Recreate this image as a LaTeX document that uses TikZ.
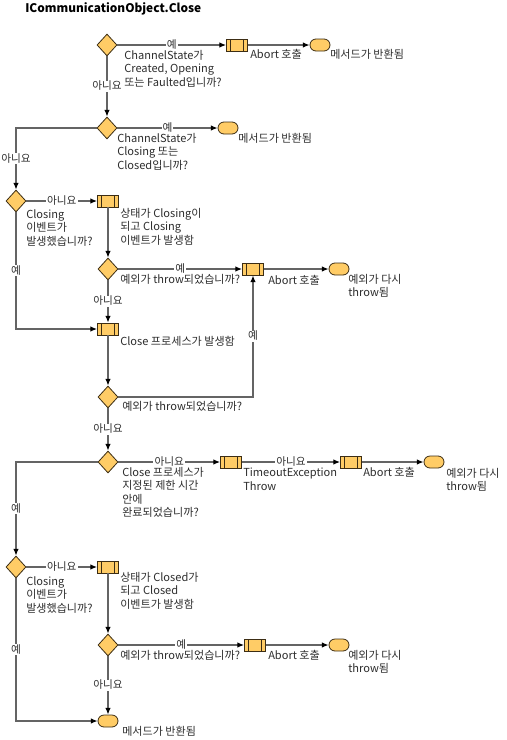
\documentclass[tikz,border=0pt]{standalone}
\usepackage{fontspec}
\setmainfont{Noto Sans CJK KR}
\usetikzlibrary{shapes.geometric,shapes.misc,arrows.meta}

\definecolor{boxfill}{RGB}{255,204,102}
\definecolor{boxline}{RGB}{60,45,20}
\definecolor{flowline}{RGB}{100,100,100}
\definecolor{txt}{RGB}{45,45,45}

\tikzset{
  decision/.style={diamond,draw=boxline,fill=boxfill,line width=0.6pt,inner sep=0pt,minimum width=15pt,minimum height=16.5pt},
  activity/.style={rectangle,draw=boxline,fill=boxfill,line width=0.6pt,inner sep=0pt,minimum width=15.75pt,minimum height=9pt,
    path picture={\draw[boxline,line width=0.6pt] ([xshift=3pt]path picture bounding box.north west) -- ([xshift=3pt]path picture bounding box.south west);
                  \draw[boxline,line width=0.6pt] ([xshift=-3pt]path picture bounding box.north east) -- ([xshift=-3pt]path picture bounding box.south east);}},
  endstate/.style={rounded rectangle,draw=boxline,fill=boxfill,line width=0.6pt,inner sep=0pt,minimum width=15pt,minimum height=9pt},
  flow/.style={draw=flowline,line width=0.8pt,-{Latex[length=5pt,width=4pt,color=black]}},
  guard/.style={fill=white,inner sep=0.8pt,text height=6pt,text depth=0.8pt,text=txt,font=\fontsize{8}{9}\selectfont},
  caption/.style={anchor=north west,align=left,inner sep=0pt,text=txt,font=\fontsize{8.3}{10.1}\selectfont}
}

\begin{document}
\begin{tikzpicture}[x=0.75pt,y=0.75pt,yscale=-1,xscale=1]
\useasboundingbox (0,0) rectangle (507,740);

% Title
\node[anchor=west,inner sep=0pt,font=\fontsize{8.9}{10}\selectfont\bfseries] (title) at (25,9) {ICommunicationObject.Close};

% Shapes
\node[decision] (d1) at (107,45) {};
\node[activity] (p1) at (237,45) {};
\node[endstate] (t1) at (320,45) {};
\node[decision] (d2) at (107,128) {};
\node[endstate] (t2) at (228,128) {};
\node[decision] (d3) at (16,201) {};
\node[activity] (p2) at (108,201) {};
\node[decision] (d4) at (108,269) {};
\node[activity] (p3) at (253,269) {};
\node[endstate] (t3) at (339,269) {};
\node[activity] (p4) at (108,329) {};
\node[decision] (d5) at (108,397) {};
\node[decision] (d6) at (108,462) {};
\node[activity] (p5) at (231,462) {};
\node[activity] (p6) at (351,462) {};
\node[endstate] (t4) at (434,462) {};
\node[decision] (d7) at (16,567) {};
\node[activity] (p7) at (108,567) {};
\node[decision] (d8) at (108,645) {};
\node[activity] (p8) at (255,645) {};
\node[endstate] (t5) at (339,645) {};
\node[endstate] (t6) at (108,721) {};

%Straight Lines
\draw[flow] (d1) -- node[guard] {예} (p1);
\draw[flow] (p1) -- (t1);
\draw[flow] (d1) -- node[guard] {아니요} (d2);
\draw[flow] (d2) -- node[guard] {예} (t2);
\draw[flow] (d2.west) -| node[guard,pos=0.75] {아니요} (d3.north);
\draw[flow] (d3) -- node[guard] {아니요} (p2);
\draw[flow] (p2) -- (d4);
\draw[flow] (d4) -- node[guard] {예} (p3);
\draw[flow] (p3) -- (t3);
\draw[flow] (d4) -- node[guard] {아니요} (p4);
\draw[flow] (d3.south) |- node[guard,pos=0.25] {예} (p4.west);
\draw[flow] (p4) -- (d5);
\draw[flow] (d5.east) -| node[guard,pos=0.75] {예} (p3.south);
\draw[flow] (d5) -- node[guard] {아니요} (d6);
\draw[flow] (d6) -- node[guard] {아니요} (p5);
\draw[flow] (p5) -- node[guard] {아니요} (p6);
\draw[flow] (p6) -- (t4);
\draw[flow] (d6.west) -| node[guard,pos=0.75] {예} (d7.north);
\draw[flow] (d7) -- node[guard] {아니요} (p7);
\draw[flow] (p7) -- (d8);
\draw[flow] (d8) -- node[guard] {예} (p8);
\draw[flow] (p8) -- (t5);
\draw[flow] (d8) -- node[guard] {아니요} (t6);
\draw[flow] (d7.south) |- node[guard,pos=0.25] {예} (t6.west);

% Text Node
\node[caption] (c1) at (124,50) {ChannelState가\\Created, Opening\\또는 Faulted입니까?};
\node[caption] (c2) at (250,49) {Abort 호출};
\node[caption] (c3) at (330,49) {메서드가 반환됨};
\node[caption] (c4) at (117,133) {ChannelState가\\Closing 또는\\Closed입니까?};
\node[caption] (c5) at (238,133) {메서드가 반환됨};
\node[caption] (c6) at (26,209) {Closing\\이벤트가\\발생했습니까?};
\node[caption] (c7) at (120,208) {상태가 Closing이\\되고 Closing\\이벤트가 발생함};
\node[caption] (c8) at (120,274) {예외가 throw되었습니까?};
\node[caption] (c9) at (268,275) {Abort 호출};
\node[caption] (c10) at (348,274) {예외가 다시\\throw됨};
\node[caption] (c11) at (120,336) {Close 프로세스가 발생함};
\node[caption] (c12) at (122,401) {예외가 throw되었습니까?};
\node[caption] (c13) at (122,467) {Close 프로세스가\\지정된 제한 시간\\안에\\완료되었습니까?};
\node[caption] (c14) at (243,468) {TimeoutException\\Throw};
\node[caption] (c15) at (363,467) {Abort 호출};
\node[caption] (c16) at (446,468) {예외가 다시\\throw됨};
\node[caption] (c17) at (26,576) {Closing\\이벤트가\\발생했습니까?};
\node[caption] (c18) at (120,572) {상태가 Closed가\\되고 Closed\\이벤트가 발생함};
\node[caption] (c19) at (120,650) {예외가 throw되었습니까?};
\node[caption] (c20) at (268,650) {Abort 호출};
\node[caption] (c21) at (348,650) {예외가 다시\\throw됨};
\node[caption] (c22) at (122,726) {메서드가 반환됨};

\end{tikzpicture}
\end{document}
